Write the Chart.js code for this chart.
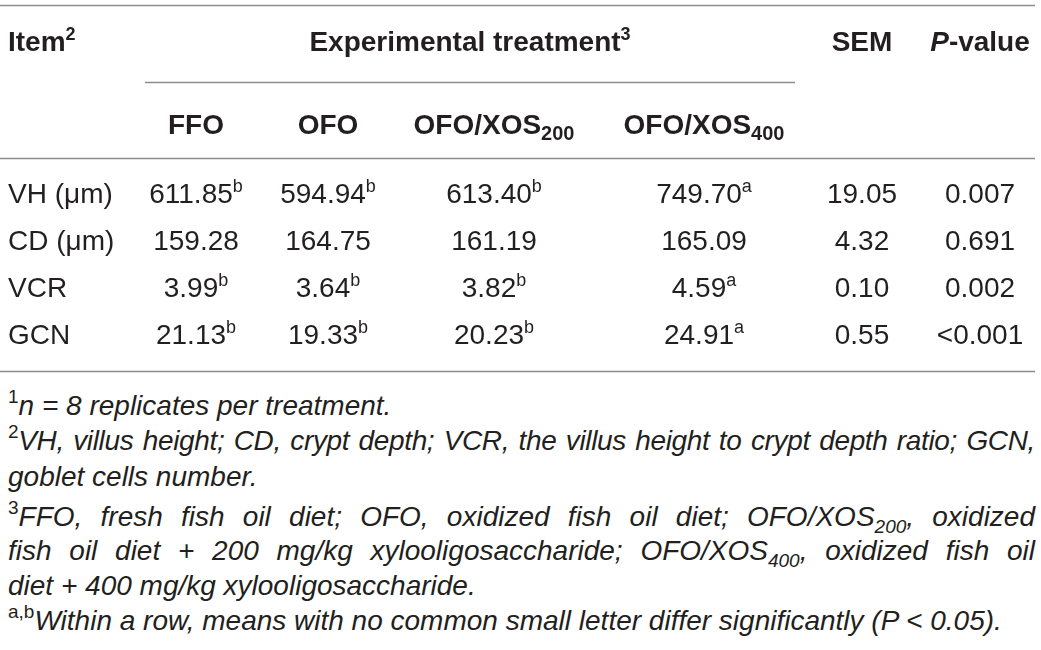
<!DOCTYPE html>
<html>
<head>
<meta charset="utf-8">
<script src="https://cdn.jsdelivr.net/npm/chart.js@4"></script>
<style>
  html, body { margin: 0; padding: 0; background: #fff; }
  body { width: 1041px; height: 650px; position: relative; overflow: hidden; }
  #wrap { position: absolute; left: 0; top: 0; width: 1041px; height: 385px; }
  .fn { position: absolute; left: 8px; width: 1027px; white-space: nowrap;
        font-family: "Liberation Sans", Arial, sans-serif; font-size: 28px; line-height: 32px;
        color: #231f20; font-style: italic; }
  .fn.j { white-space: normal; text-align: justify; text-align-last: justify; }
  .fn.tight { letter-spacing: -0.35px; }
  .fn .sp { font-style: normal; font-size: 19px; position: relative; top: -12px; line-height: 0; }
  .fn .sb { font-size: 19px; position: relative; top: 7px; line-height: 0; }
</style>
</head>
<body>
<div id="wrap"><canvas id="c" width="1041" height="385"></canvas></div>

<div class="fn" style="top:390px"><span class="sp">1</span>n = 8 replicates per treatment.</div>
<div class="fn j tight" style="top:425px"><span class="sp">2</span>VH, villus height; CD, crypt depth; VCR, the villus height to crypt depth ratio; GCN,</div>
<div class="fn" style="top:461px">goblet cells number.</div>
<div class="fn j" style="top:501px"><span class="sp">3</span>FFO, fresh fish oil diet; OFO, oxidized fish oil diet; OFO/XOS<span class="sb">200</span>, oxidized</div>
<div class="fn j" style="top:535px">fish oil diet + 200 mg/kg xylooligosaccharide; OFO/XOS<span class="sb">400</span>, oxidized fish oil</div>
<div class="fn" style="top:570px">diet + 400 mg/kg xylooligosaccharide.</div>
<div class="fn" style="top:605px"><span class="sp">a,b</span>Within a row, means with no common small letter differ significantly (P &lt; 0.05).</div>

<script>
// ---------- DATA ----------
const items = ["VH (μm)", "CD (μm)", "VCR", "GCN"];
const treatmentNames = ["FFO", "OFO", "OFO/XOS", "OFO/XOS"];
const treatmentSubs = ["", "", "200", "400"];
const ffo = [611.85, 159.28, 3.99, 21.13];
const ffoSig = ["b", "", "b", "b"];
const ofo = [594.94, 164.75, 3.64, 19.33];
const ofoSig = ["b", "", "b", "b"];
const xos200 = [613.40, 161.19, 3.82, 20.23];
const xos200Sig = ["b", "", "b", "b"];
const xos400 = [749.70, 165.09, 4.59, 24.91];
const xos400Sig = ["a", "", "a", "a"];
const sem = [19.05, 4.32, 0.10, 0.55];
const pValues = ["0.007", "0.691", "0.002", "<0.001"];

// ---------- LAYOUT (style only) ----------
const COLX = { item: 8, ffo: 196, ofo: 328, x200: 494, x400: 704, sem: 862, p: 980 };
const HEAD1_Y = 51, HEAD2_Y = 134;
const ROW_Y = [203, 250, 297, 344];
const RULES = [
  { y: 5, x0: 0, x1: 1035 },
  { y: 82, x0: 145, x1: 795 },
  { y: 158, x0: 0, x1: 1035 },
  { y: 371, x0: 0, x1: 1035 }
];
const FAM = '"Liberation Sans", Arial, sans-serif';
const INK = '#231f20';
const F_HEAD = 'bold 28px ' + FAM, F_HEAD_I = 'italic bold 28px ' + FAM;
const F_HSUP = 'bold 18px ' + FAM, F_HSUB = 'bold 20px ' + FAM;
const F_BODY = '28px ' + FAM, F_SUP = '18px ' + FAM;

// table columns built from data
const valueCols = [
  { key: 'ffo', vals: ffo, sig: ffoSig, dec: 2 },
  { key: 'ofo', vals: ofo, sig: ofoSig, dec: 2 },
  { key: 'x200', vals: xos200, sig: xos200Sig, dec: 2 },
  { key: 'x400', vals: xos400, sig: xos400Sig, dec: 2 },
  { key: 'sem', vals: sem, sig: null, dec: 2 },
  { key: 'p', vals: pValues, sig: null, dec: null }
];

function cellParts(col, i) {
  const v = col.vals[i];
  const txt = typeof v === 'number' ? v.toFixed(col.dec) : v;
  const parts = [{ t: txt, f: F_BODY, dy: 0 }];
  if (col.sig && col.sig[i]) parts.push({ t: col.sig[i], f: F_SUP, dy: -11 });
  return parts;
}

const datasets = valueCols.map(col => ({
  label: col.key,
  data: col.vals.map((v, i) => ({ x: COLX[col.key], y: ROW_Y[i] })),
  pointRadius: 0, pointHoverRadius: 0
}));
datasets.push({
  label: 'item',
  data: items.map((v, i) => ({ x: COLX.item, y: ROW_Y[i] })),
  pointRadius: 0, pointHoverRadius: 0
});

function drawParts(ctx, parts, x, y, align) {
  let w = 0;
  parts.forEach(p => { ctx.font = p.f; p.w = ctx.measureText(p.t).width; w += p.w; });
  let cx = align === 'left' ? x : x - w / 2;
  ctx.textAlign = 'left';
  ctx.textBaseline = 'alphabetic';
  parts.forEach(p => { ctx.font = p.f; ctx.fillText(p.t, cx, y + p.dy); cx += p.w; });
}

const tablePlugin = {
  id: 'table',
  afterDatasetsDraw(chart) {
    const ctx = chart.ctx;
    const xs = chart.scales.x, ys = chart.scales.y;
    ctx.save();
    // rules
    ctx.strokeStyle = '#8c8c8c';
    ctx.lineWidth = 1.5;
    RULES.forEach(r => {
      const py = Math.round(ys.getPixelForValue(r.y)) + 0.5;
      ctx.beginPath();
      ctx.moveTo(xs.getPixelForValue(r.x0), py);
      ctx.lineTo(xs.getPixelForValue(r.x1), py);
      ctx.stroke();
    });
    ctx.fillStyle = INK;
    // header row 1
    const h1 = ys.getPixelForValue(HEAD1_Y);
    drawParts(ctx, [{ t: 'Item', f: F_HEAD, dy: 0 }, { t: '2', f: F_HSUP, dy: -11 }], xs.getPixelForValue(COLX.item), h1, 'left');
    drawParts(ctx, [{ t: 'Experimental treatment', f: F_HEAD, dy: 0 }, { t: '3', f: F_HSUP, dy: -11 }],
      xs.getPixelForValue((RULES[1].x0 + RULES[1].x1) / 2), h1, 'center');
    drawParts(ctx, [{ t: 'SEM', f: F_HEAD, dy: 0 }], xs.getPixelForValue(COLX.sem), h1, 'center');
    drawParts(ctx, [{ t: 'P', f: F_HEAD_I, dy: 0 }, { t: '-value', f: F_HEAD, dy: 0 }], xs.getPixelForValue(COLX.p), h1, 'center');
    // header row 2
    const h2 = ys.getPixelForValue(HEAD2_Y);
    ['ffo', 'ofo', 'x200', 'x400'].forEach((k, i) => {
      const parts = [{ t: treatmentNames[i], f: F_HEAD, dy: 0 }];
      if (treatmentSubs[i]) parts.push({ t: treatmentSubs[i], f: F_HSUB, dy: 6 });
      drawParts(ctx, parts, xs.getPixelForValue(COLX[k]), h2, 'center');
    });
    // body cells, placed at the chart's own point elements
    chart.data.datasets.forEach((ds, di) => {
      const meta = chart.getDatasetMeta(di);
      meta.data.forEach((pt, i) => {
        if (ds.label === 'item') {
          drawParts(ctx, [{ t: items[i], f: F_BODY, dy: 0 }], pt.x, pt.y, 'left');
        } else {
          const col = valueCols.find(c => c.key === ds.label);
          drawParts(ctx, cellParts(col, i), pt.x, pt.y, 'center');
        }
      });
    });
    ctx.restore();
  }
};

new Chart(document.getElementById('c'), {
  type: 'scatter',
  data: { datasets },
  options: {
    responsive: false,
    animation: false,
    events: [],
    layout: { padding: 0 },
    plugins: { legend: { display: false }, tooltip: { enabled: false } },
    scales: {
      x: { type: 'linear', min: 0, max: 1041, display: false },
      y: { type: 'linear', min: 0, max: 385, reverse: true, display: false }
    }
  },
  plugins: [tablePlugin]
});
</script>
</body>
</html>
